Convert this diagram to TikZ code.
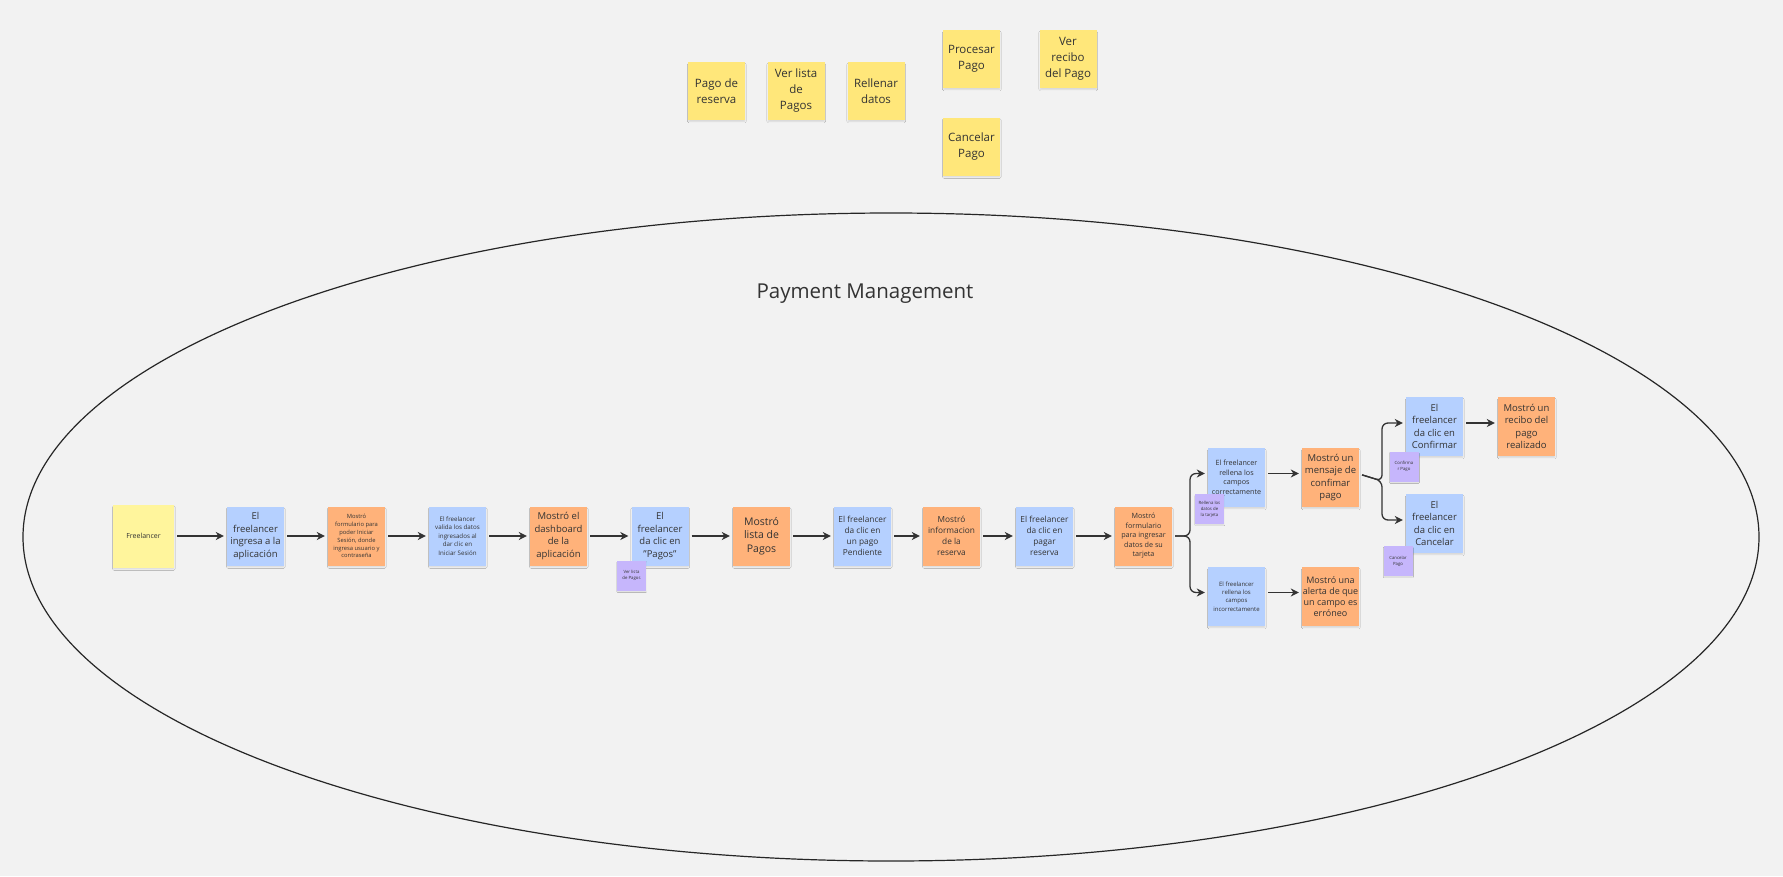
\documentclass[tikz,border=0pt]{standalone}
\usepackage{fontspec}
\setmainfont{Open Sans}
\usetikzlibrary{arrows.meta,shadows.blur,calc}
\definecolor{bgc}{HTML}{F2F2F2}
\definecolor{bluec}{HTML}{B5D0FF}
\definecolor{orangec}{HTML}{FFB27A}
\definecolor{yellowc}{HTML}{FFE77A}
\definecolor{paleyc}{HTML}{FFF59C}
\definecolor{purplec}{HTML}{C6B6FC}
\definecolor{txtc}{HTML}{333333}
\newcommand\fz[2]{\fontsize{#1}{#2}\selectfont}
\tikzset{
  sticky/.style={rectangle, minimum width=57pt, minimum height=59pt, inner sep=0pt, align=center, text=txtc,
     blur shadow={shadow xshift=0.3pt, shadow yshift=-2pt, shadow blur radius=1.5pt, shadow opacity=12, shadow scale=0.98}},
  bluebox/.style={sticky, fill=bluec},
  orangebox/.style={sticky, fill=orangec},
  topnote/.style={sticky, fill=yellowc, minimum height=58pt, font=\fz{11.5}{16}},
  tagnote/.style={rectangle, minimum width=29pt, minimum height=30pt, inner sep=0pt, align=center, fill=purplec, text=txtc,
     font=\fz{4.3}{6}, blur shadow={shadow xshift=0.3pt, shadow yshift=-1.5pt, shadow blur radius=1pt, shadow opacity=10, shadow scale=0.97}},
  arr/.style={draw=txtc, line width=1.3pt, -{Stealth[length=8pt,width=8pt,inset=2.5pt]}, shorten >=3pt, shorten <=3pt},
  big/.style={font=\fz{9.5}{12.5}},
  mid/.style={font=\fz{8.3}{11}},
  sm/.style={font=\fz{7.2}{9.5}},
  xs/.style={font=\fz{6.2}{8.4}},
  xxs/.style={font=\fz{5.8}{7.9}}
}
\begin{document}
\begin{tikzpicture}[x=1pt,y=-1pt]
\useasboundingbox (0,0) rectangle (1783,876);
\fill[bgc] (0,0) rectangle (1783,876);

% boundary ellipse and title
\draw[line width=1.2pt, black!85] (891,537) ellipse [x radius=868, y radius=324];
\node[text=txtc, font=\fz{20.5}{24}] (title) at (865,294) {Payment Management};

% top notes
\node[topnote] (t1) at (716.5,91) {Pago de\\reserva};
\node[topnote] (t2) at (796,91) {Ver lista\\de\\Pagos};
\node[topnote] (t3) at (876,91) {Rellenar\\datos};
\node[topnote] (t4) at (971.5,59) {Procesar\\Pago};
\node[topnote] (t5) at (1068,59) {Ver\\recibo\\del Pago};
\node[topnote] (t6) at (971.5,146.5) {Cancelar\\Pago};

% main flow
\node[sticky, fill=paleyc, minimum width=61pt, minimum height=63pt, font=\fz{7}{9}] (fr) at (143.5,536) {Freelancer};
\node[bluebox, big] (b1) at (255.5,536) {El\\freelancer\\ingresa a la\\aplicación};
\node[orangebox, xxs] (o1) at (356.5,536) {Mostró\\formulario para\\poder Iniciar\\Sesión, donde\\ingresa usuario y\\contraseña};
\node[bluebox, xs] (b2) at (457.5,536) {El freelancer\\valida los datos\\ingresados al\\dar clic en\\Iniciar Sesión};
\node[orangebox, big] (o2) at (558.5,536) {Mostró el\\dashboard\\de la\\aplicación};
\node[bluebox, big] (b3) at (660,536) {El\\freelancer\\da clic en\\"Pagos"};
\node[orangebox, font=\fz{10.5}{13.3}] (o3) at (761.5,536) {Mostró\\lista de\\Pagos};
\node[bluebox, mid] (b4) at (862.5,536) {El freelancer\\da clic en\\un pago\\Pendiente};
\node[orangebox, mid] (o4) at (951.5,536) {Mostró\\informacion\\de la\\reserva};
\node[bluebox, mid] (b5) at (1044.5,536) {El freelancer\\da clic en\\pagar\\reserva};
\node[orangebox, sm] (o5) at (1143.5,536) {Mostró\\formulario\\para ingresar\\datos de su\\tarjeta};

\node[bluebox, sm] (b6) at (1236.5,477.5) {El freelancer\\rellena los\\campos\\correctamente};
\node[orangebox, big] (o6) at (1330.5,477.5) {Mostró un\\mensaje de\\confimar\\pago};
\node[bluebox, font=\fz{6}{8.2}] (b7) at (1236.5,596.5) {El freelancer\\rellena los\\campos\\incorrectamente};
\node[orangebox, font=\fz{9}{11}] (o7) at (1330.5,596.5) {Mostró una\\alerta de que\\un campo es\\erróneo};

\node[bluebox, big] (b8) at (1434.5,426.5) {El\\freelancer\\da clic en\\Confirmar};
\node[orangebox, big] (o8) at (1526.5,426.5) {Mostró un\\recibo del\\pago\\realizado};
\node[bluebox, big] (b9) at (1434.5,523.5) {El\\freelancer\\da clic en\\Cancelar};

% tags
\node[tagnote] (p1) at (631.5,575.5) {Ver lista\\de Pagos};
\node[tagnote] (p2) at (1209.5,509) {Rellena los\\datos de\\la tarjeta};
\node[tagnote] (p3) at (1404,466.5) {Confirma\\r Pago};
\node[tagnote] (p4) at (1398,561) {Cancelar\\Pago};

% connectors
\draw[arr] (fr) -- (b1);
\draw[arr] (b1) -- (o1);
\draw[arr] (o1) -- (b2);
\draw[arr] (b2) -- (o2);
\draw[arr] (o2) -- (b3);
\draw[arr] (b3) -- (o3);
\draw[arr] (o3) -- (b4);
\draw[arr] (b4) -- (o4);
\draw[arr] (o4) -- (b5);
\draw[arr] (b5) -- (o5);

\coordinate (j1) at (1190,536);
\draw[arr, rounded corners=6pt] (o5.east) -- (j1) |- ([yshift=4pt]b6.west);
\draw[arr, rounded corners=6pt] (o5.east) -- (j1) |- ([yshift=4pt]b7.west);
\draw[arr] ([yshift=4pt]b6.east) -- ([yshift=4pt]o6.west);
\draw[arr] ([yshift=4pt]b7.east) -- ([yshift=4pt]o7.west);

\coordinate (j2) at (1382,481);
\draw[arr, rounded corners=6pt] ([yshift=3.5pt]o6.east) -- (j2) |- ([yshift=3.5pt]b8.west);
\draw[arr, rounded corners=6pt] ([yshift=3.5pt]o6.east) -- (j2) |- ([yshift=3.5pt]b9.west);
\draw[arr] ([yshift=3.5pt]b8.east) -- ([yshift=3.5pt]o8.west);
\end{tikzpicture}
\end{document}
